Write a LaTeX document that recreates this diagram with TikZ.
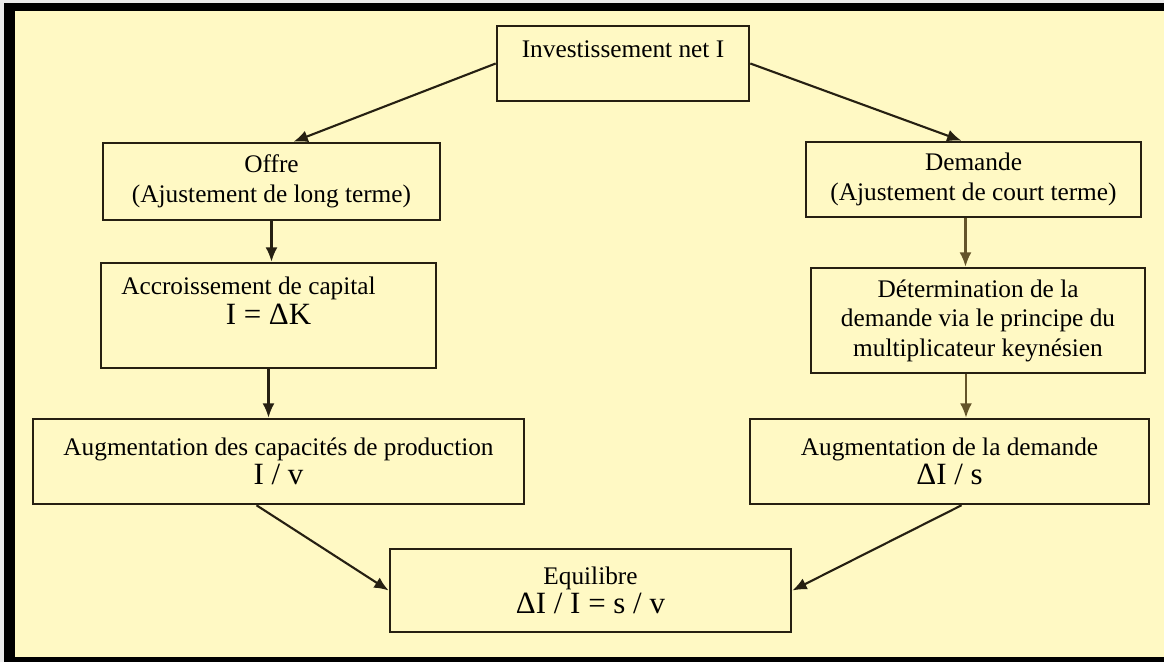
\documentclass[tikz,border=0pt]{standalone}
\usepackage{fontspec}
\setmainfont{Liberation Serif}
\usetikzlibrary{arrows.meta}
\definecolor{paper}{RGB}{255,249,196}
\definecolor{boxline}{RGB}{38,32,18}
\definecolor{arrowbrown}{RGB}{100,84,42}
\newcommand\formula[1]{{\fontsize{22}{21}\selectfont #1}}

\begin{document}
\begin{tikzpicture}[x=0.025cm,y=-0.025cm,
        box/.style={draw=boxline,line width=1.8pt,align=center,inner sep=2pt,font=\fontsize{18}{21}\selectfont},
        link/.style={draw=boxline,line width=1.5pt,-{Latex[length=3.6mm,width=3mm]}}]
            \useasboundingbox (0,0) rectangle (1164,662);
            \fill[black!8] (0,0) rectangle (1164,662);
            \fill[black] (4,3) rectangle (1164,662);
            \fill[paper] (15,11) rectangle (1164,657);
            \node[box,minimum width=6.3cm,minimum height=1.875cm] (inv) at (623,63.5) {Investissement net I\\~};
            \node[box,minimum width=8.425cm,minimum height=1.925cm] (offre) at (271.5,181.5) {Offre\\(Ajustement de long terme)};
            \node[box,minimum width=8.375cm,minimum height=1.875cm] (demande) at (973.5,179.5) {Demande\\(Ajustement de court terme)};
            \node[box,minimum width=8.375cm,minimum height=2.625cm] (accr) at (268.5,315.5) {Accroissement de capital\hspace*{1cm}\\\formula{I = ΔK}\\~};
            \node[box,minimum width=8.35cm,minimum height=2.625cm] (determ) at (978,320.5) {Détermination de la\\demande via le principe du\\multiplicateur keynésien};
            \node[box,minimum width=12.275cm,minimum height=2.125cm] (augcap) at (278.5,461.5) {Augmentation des capacités de production\\\formula{I / v}};
            \node[box,minimum width=9.975cm,minimum height=2.125cm] (augdem) at (949.5,461.5) {Augmentation de la demande\\\formula{ΔI / s}};
            \node[box,minimum width=10.025cm,minimum height=2.075cm] (equil) at (590.5,590.5) {Equilibre\\\formula{ΔI / I = s / v}};
            \coordinate (d1) at ([xshift=-0.2cm]demande.south);
            \coordinate (d2) at ([xshift=-0.3cm]determ.south);
            \draw[link] (inv.west) -- ([xshift=0.55cm]offre.north);
            \draw[link] (inv.east) -- ([xshift=-0.3cm]demande.north);
            \draw[link] (offre.south) -- (offre.south |- accr.north);
            \draw[link] (accr.south) -- (accr.south |- augcap.north);
            \draw[link,draw=arrowbrown] (d1) -- (d1 |- determ.north);
            \draw[link,draw=arrowbrown] (d2) -- (d2 |- augdem.north);
            \draw[link] ([xshift=-0.55cm]augcap.south) -- (equil.west);
            \draw[link] ([xshift=0.3cm]augdem.south) -- (equil.east);
\end{tikzpicture}
\end{document}
